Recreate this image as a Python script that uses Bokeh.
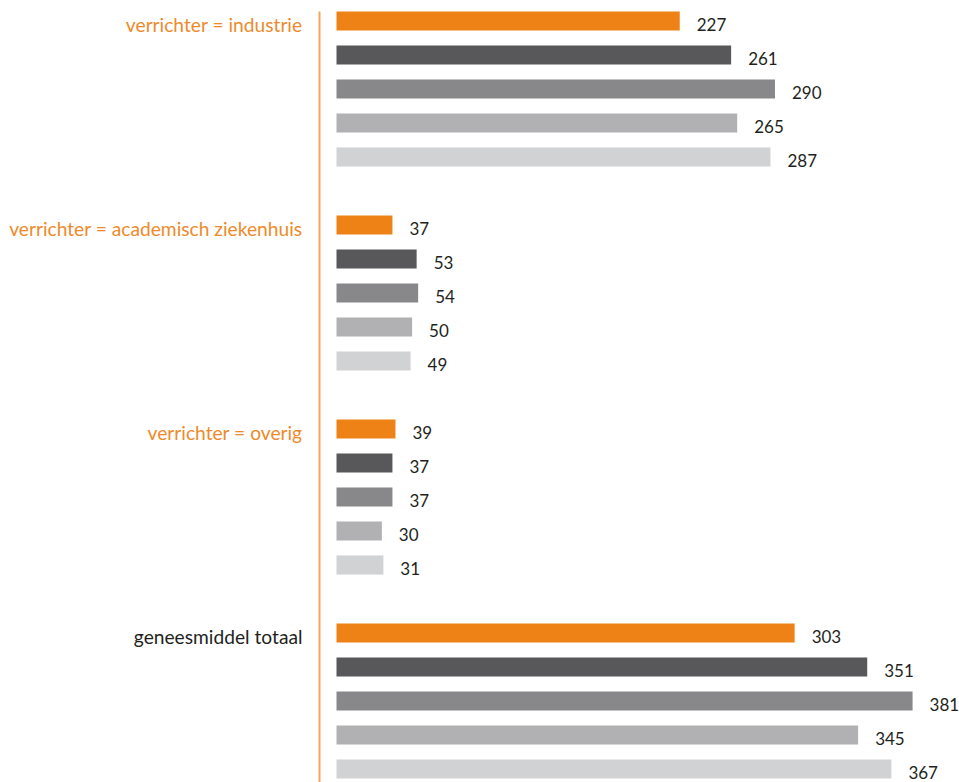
from bokeh.plotting import figure
from bokeh.models import Range1d, ColumnDataSource
from bokeh.core.properties import value
from bokeh.embed import file_html
from bokeh.resources import INLINE

# ---- data ----
groups = ["verrichter = industrie", "verrichter = academisch ziekenhuis",
          "verrichter = overig", "geneesmiddel totaal"]
group_label_colors = ["#EE8A2B", "#EE8A2B", "#EE8A2B", "#231F20"]
series_colors = ["#EE8216", "#58585A", "#88888A", "#B1B1B3", "#D1D2D4"]
industrie = [227, 261, 290, 265, 287]
academisch = [37, 53, 54, 50, 49]
overig = [39, 37, 37, 30, 31]
totaal = [303, 351, 381, 345, 367]
values_by_group = [industrie, academisch, overig, totaal]

# ---- layout constants ----
W, H = 959, 782
ROW_PX = 34.0
PX_PER_UNIT = 1.512
BAR_LEFT_PX = 336
FIRST_ROW_PX = 20.5
FONT = "Lato"

rows, vals, cols, labels = [], [], [], []
for g, vs in enumerate(values_by_group):
    for k, v in enumerate(vs):
        rows.append(g * 6 + k)
        vals.append(v)
        cols.append(series_colors[k])
        labels.append(str(v))

src = ColumnDataSource(dict(y=rows, right=vals, color=cols, label=labels))

x_start = -BAR_LEFT_PX / PX_PER_UNIT
x_end = (W - BAR_LEFT_PX) / PX_PER_UNIT
y_top = -FIRST_ROW_PX / ROW_PX
y_bottom = y_top + H / ROW_PX

p = figure(width=W, height=H, output_backend="svg", toolbar_location=None,
           x_range=Range1d(x_start, x_end), y_range=Range1d(y_bottom, y_top),
           min_border=0, outline_line_color=None)
p.axis.visible = False
p.grid.visible = False
p.background_fill_color = "white"
p.border_fill_color = "white"

bar_h = 19 / ROW_PX
p.hbar(y="y", left=0, right="right", height=bar_h, color="color",
       line_color=None, source=src)

# value labels
p.text(x="right", y="y", text="label", source=src, x_offset=17, y_offset=3,
       text_font=value(FONT), text_font_size="17px", text_color="#231F20",
       text_align="left", text_baseline="middle")

# group labels
gsrc = ColumnDataSource(dict(y=[g * 6 for g in range(len(groups))],
                             x=[0] * len(groups), text=groups,
                             color=group_label_colors))
p.text(x="x", y="y", text="text", source=gsrc, x_offset=-34, y_offset=3,
       text_font=value(FONT), text_font_size="19.2px", text_color="color",
       text_align="right", text_baseline="middle")

# vertical orange line
line_x = -17 / PX_PER_UNIT
p.segment(x0=[line_x], x1=[line_x], y0=[-bar_h / 2], y1=[y_bottom + 1],
          line_color="#F5A65B", line_width=2)

open("out.html", "w").write(file_html(p, INLINE))
